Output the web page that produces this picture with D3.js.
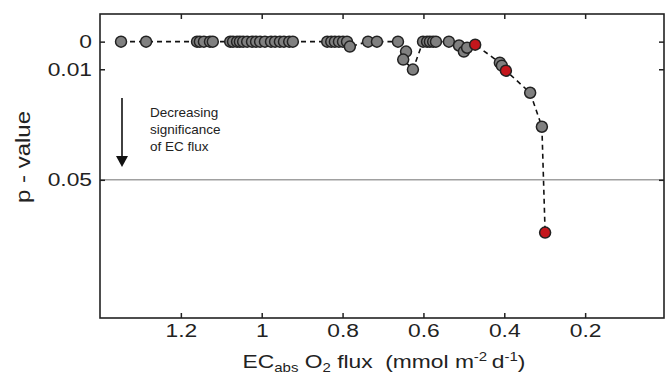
<!DOCTYPE html>
<html><head><meta charset="utf-8">
<script src="https://cdn.jsdelivr.net/npm/d3@7"></script>
<style>body{margin:0;background:#fff}svg{display:block}text{font-family:"Liberation Sans",Arial,sans-serif;fill:#222}</style>
</head><body><svg id="c" width="665" height="376"></svg>
<script>
// EC O2 flux (x) and p-value (y); red = highlighted points
const flux = [1.348,1.286,1.160,1.153,1.143,1.128,1.121,1.078,1.071,1.061,1.054,1.046,1.036,1.024,1.014,1.004,0.992,0.977,0.967,0.955,0.945,0.932,0.923,0.838,0.828,0.819,0.809,0.799,0.789,0.782,0.737,0.715,0.663,0.643,0.650,0.626,0.601,0.591,0.584,0.576,0.569,0.537,0.512,0.500,0.492,0.472,0.411,0.406,0.396,0.336,0.307,0.299];
const pval = [0,0,0,0,0,0,0,0,0,0,0,0,0,0,0,0,0,0,0,0,0,0,0,0,0,0,0,0,0,0.0018,0,0,0,0.0036,0.0065,0.0101,0,0,0,0,0,0,0.0014,0.0036,0.0022,0.0011,0.0076,0.0087,0.0105,0.0185,0.0308,0.0691];
const highlighted = [0.472,0.396,0.299];
const xTicks = [1.2,1,0.8,0.6,0.4,0.2];
const yTicks = [0,0.01,0.05];
const threshold = 0.05;

const SX = 1.2; // horizontal stretch of the original lettering
const svg = d3.select("#c");
const L=100,R=664,T=14,B=318;
const x = d3.scaleLinear().domain([1.4,0]).range([L,666]);
const y = d3.scaleLinear().domain([-0.01,0.1]).range([T,B]);
const data = flux.map((f,i)=>({f,p:pval[i],red:highlighted.includes(f)}));

// threshold line
svg.append("line").attr("x1",L).attr("x2",R).attr("y1",y(threshold)).attr("y2",y(threshold))
  .attr("stroke","#a0a0a0").attr("stroke-width",1.5);

// dashed line
svg.append("path").datum(data).attr("fill","none").attr("stroke","#111").attr("stroke-width",1.6)
  .attr("stroke-dasharray","5,4").attr("d",d3.line().x(d=>x(d.f)).y(d=>y(d.p)));

// points
svg.append("g").selectAll("circle").data(data).join("circle")
  .attr("cx",d=>x(d.f)).attr("cy",d=>y(d.p)).attr("r",5.5)
  .attr("fill",d=>d.red?"#c4161c":"#808080").attr("stroke","#222").attr("stroke-width",1.5);

// axes
const fs = 19;
const ax = svg.append("g").attr("transform",`translate(0,${B})`)
  .call(d3.axisBottom(x).tickValues(xTicks).tickFormat(d3.format("~g")).tickSizeInner(-5).tickSizeOuter(0).tickPadding(6));
const axT = svg.append("g").attr("transform",`translate(0,${T})`)
  .call(d3.axisTop(x).tickValues(xTicks).tickFormat("").tickSizeInner(-5).tickSizeOuter(0));
const ay = svg.append("g").attr("transform",`translate(${L},0)`)
  .call(d3.axisLeft(y).tickValues(yTicks).tickFormat(d3.format("~g")).tickSizeInner(-5).tickSizeOuter(0).tickPadding(8));
const ayR = svg.append("g").attr("transform",`translate(${R},0)`)
  .call(d3.axisRight(y).tickValues(yTicks).tickFormat("").tickSizeInner(-5).tickSizeOuter(0));
[ax,axT,ay,ayR].forEach(g=>{g.select(".domain").remove();g.selectAll("line").attr("stroke","#222").attr("stroke-width",1.5);
  g.selectAll("text").attr("font-size",fs).attr("fill","#222").attr("font-family","Liberation Sans, Arial, sans-serif")
   .attr("transform",`scale(${SX},1)`);});
ay.selectAll("text").attr("x",-8/SX);
svg.append("rect").attr("x",L).attr("y",T).attr("width",R-L).attr("height",B-T).attr("fill","none").attr("stroke","#222").attr("stroke-width",1.6);

// x title
const xt = svg.append("text").attr("transform",`translate(384,368) scale(${SX},1)`).attr("text-anchor","middle").attr("font-size",19);
xt.append("tspan").text("EC");
xt.append("tspan").text("abs").attr("font-size",12.5).attr("dy",4);
xt.append("tspan").text(" O").attr("dy",-4);
xt.append("tspan").text("2").attr("font-size",12.5).attr("dy",4);
xt.append("tspan").text(" flux\u00a0\u00a0(mmol m").attr("dy",-4);
xt.append("tspan").text("-2").attr("font-size",12.5).attr("dy",-7);
xt.append("tspan").text("\u2009d").attr("dy",7);
xt.append("tspan").text("-1").attr("font-size",12.5).attr("dy",-7);
xt.append("tspan").text(")").attr("dy",7);

// y title
svg.append("text").attr("transform",`translate(30,157) rotate(-90) scale(${SX},1)`).attr("text-anchor","middle").attr("font-size",20).text("p - value");

// annotation
svg.append("line").attr("x1",122).attr("x2",122).attr("y1",98).attr("y2",158).attr("stroke","#111").attr("stroke-width",1.6);
svg.append("path").attr("d","M116,156 L128,156 L122,167 Z").attr("fill","#111");
const ann = svg.append("text").attr("x",150).attr("font-size",13.5);
["Decreasing","significance","of EC flux"].forEach((t,i)=>ann.append("tspan").attr("x",150).attr("y",117+i*17).text(t));
</script></body></html>
